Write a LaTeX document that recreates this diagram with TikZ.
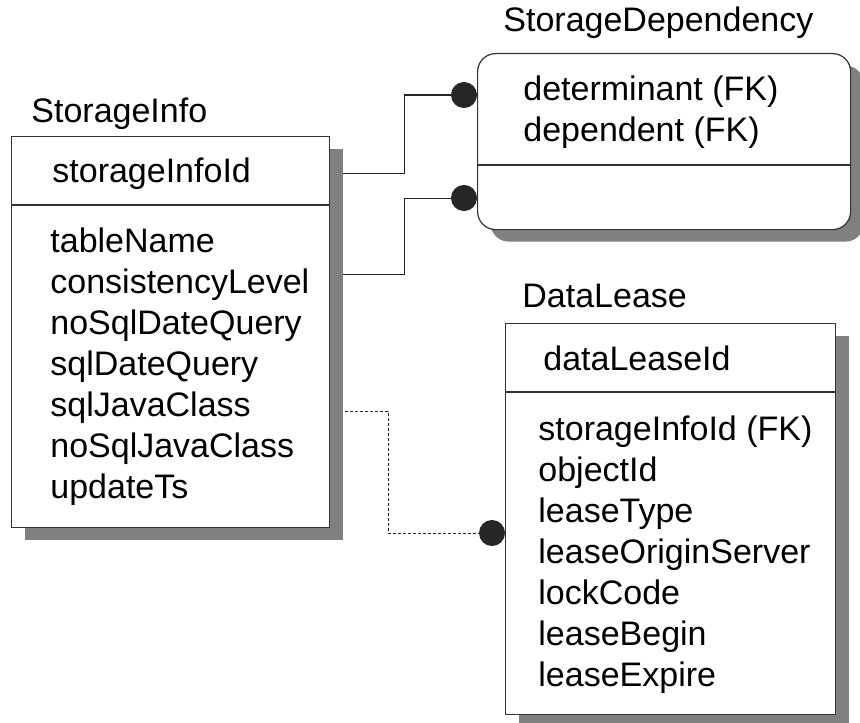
\documentclass[tikz,border=0pt]{standalone}
\usepackage{fontspec}
\setmainfont{Liberation Sans}
\usepackage{tikz}
\usetikzlibrary{arrows.meta,shadows,backgrounds}
\tikzstyle{entity}=[draw=black!80,line width=0.6pt,fill=white,anchor=north west,inner sep=0pt,
	drop shadow={shadow xshift=6.5pt,shadow yshift=-6pt,fill=black!50,opacity=1}]
\tikzstyle{divider}=[draw=black!80,line width=0.6pt]
\tikzstyle{field}=[anchor=base west,inner sep=0pt,font=\fontsize{17pt}{20.5pt}\selectfont]
\tikzstyle{relation}=[draw=black!85,line width=0.5pt,-{Circle[length=13pt,width=13pt]}]
\tikzstyle{nonident}=[dash pattern=on 1.5pt off 1pt]

\begin{document}
\begin{tikzpicture}[x=0.5pt,y=-0.5pt]
\useasboundingbox (0,0) rectangle (860,722);
% StorageInfo
\node[field] (info-name) at (31,122) {StorageInfo};
\node[entity,minimum width=159pt,minimum height=195.5pt] (info) at (11,136) {};
\draw[divider] (info.west |- 0,205) -- (info.east |- 0,205);
\node[field] (info-key) at (52,182) {storageInfoId};
\foreach \f [count=\i from 0] in {tableName,consistencyLevel,noSqlDateQuery,sqlDateQuery,sqlJavaClass,noSqlJavaClass,updateTs}
	\node[field] (info-\i) at (50,{252+41*\i}) {\f};
% StorageDependency
\node[field] (dep-name) at (503,32) {StorageDependency};
\node[entity,rounded corners=9pt,minimum width=186.5pt,minimum height=88pt] (dep) at (477,53) {};
\draw[divider] (dep.west |- 0,165) -- (dep.east |- 0,165);
\node[field] (dep-0) at (523,100) {determinant (FK)};
\node[field] (dep-1) at (523,141) {dependent (FK)};
% DataLease
\node[field] (lease-name) at (522,307) {DataLease};
\node[entity,minimum width=165pt,minimum height=195.5pt] (lease) at (505,323) {};
\draw[divider] (lease.west |- 0,392) -- (lease.east |- 0,392);
\node[field] (lease-key) at (543,370) {dataLeaseId};
\foreach \f [count=\i from 0] in {storageInfoId (FK),objectId,leaseType,leaseOriginServer,lockCode,leaseBegin,leaseExpire}
	\node[field] (lease-\i) at (538,{440+41*\i}) {\f};
% relationships
\begin{scope}[on background layer]
\draw[relation] (info.east |- 0,173) -- ++(74,0) |- (dep.west |- 0,95);
\draw[relation] (info.east |- 0,274) -- ++(74,0) |- (dep.west |- 0,198);
\draw[relation,nonident] (info.east |- 0,411) -- ++(58,0) |- (lease.west |- 0,533);
\end{scope}
\end{tikzpicture}
\end{document}
